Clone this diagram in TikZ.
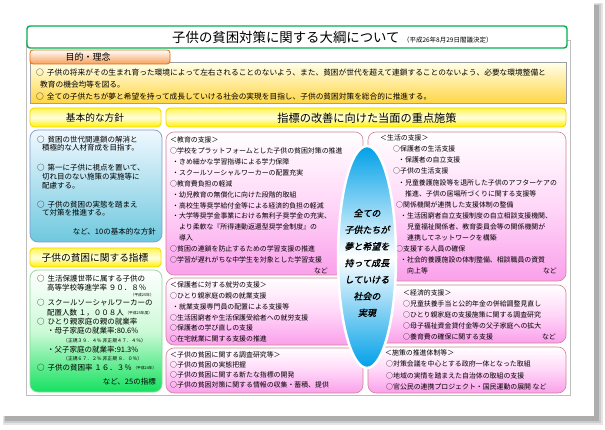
\documentclass[tikz,border=0pt]{standalone}
\usepackage{fontspec}
\setmainfont{Noto Sans CJK JP}
\newfontfamily\goalfont[FakeSlant=0.2,FakeBold=1.5]{Noto Sans CJK JP}
\usetikzlibrary{shapes.geometric, positioning}

\definecolor{framegray}{RGB}{190,190,190}
\definecolor{titlegreen}{RGB}{0,176,80}
\definecolor{tabline}{RGB}{226,107,10}
\definecolor{tabfill}{RGB}{248,160,90}
\definecolor{aimtop}{RGB}{255,255,235}
\definecolor{aimbot}{RGB}{255,214,70}
\definecolor{headline}{RGB}{245,215,0}
\definecolor{headtop}{RGB}{255,245,80}
\definecolor{headmid}{RGB}{255,255,225}
\definecolor{headbot}{RGB}{255,240,0}
\definecolor{blueline}{RGB}{125,155,200}
\definecolor{bluetop}{RGB}{240,248,255}
\definecolor{bluebot}{RGB}{110,200,222}
\definecolor{greenline}{RGB}{140,215,150}
\definecolor{greenmid}{RGB}{205,250,215}
\definecolor{greenbot}{RGB}{20,225,95}
\definecolor{pinkline}{RGB}{210,130,150}
\definecolor{pinkmid}{RGB}{255,215,248}
\definecolor{pinkbot}{RGB}{250,160,235}
\definecolor{goalblue}{RGB}{0,160,232}

\begin{document}
\begin{tikzpicture}[x=1pt, y=-1pt,
    panel/.style={draw=framegray, line width=0.6pt, fill=white},
    titlebox/.style={draw=titlegreen, line width=1.4pt, rounded corners=3pt, fill=white},
    tabbox/.style={draw=tabline, line width=0.8pt, rounded corners=3pt, top color=white, bottom color=tabfill},
    aimbox/.style={draw=gray!75, line width=0.6pt, top color=aimtop, bottom color=aimbot},
    head/.style={draw=headline, line width=0.8pt, rounded corners=4pt,
                 top color=headtop, bottom color=headbot, middle color=headmid},
    policybox/.style={draw=blueline, line width=0.7pt, rounded corners=8pt, top color=bluetop, bottom color=bluebot},
    indexbox/.style={draw=greenline, line width=0.7pt, rounded corners=8pt,
                     top color=white, bottom color=greenbot, middle color=greenmid},
    measure/.style={draw=pinkline, line width=0.6pt, rounded corners=8pt,
                    top color=white, bottom color=pinkbot, middle color=pinkmid},
    headtxt/.style={inner sep=0pt, font=\fontsize{9.7}{10}\selectfont},
    ltxt/.style={anchor=west, inner sep=0pt, font=\fontsize{7.5}{8}\selectfont},
    txt/.style={anchor=west, inner sep=0pt, font=\fontsize{6.9}{8}\selectfont},
    etc/.style={anchor=east, inner sep=0pt, font=\fontsize{6.9}{8}\selectfont},
    note/.style={inner sep=0pt, font=\fontsize{3.8}{4}\selectfont}
]
\useasboundingbox (0,0) rectangle (605,430);

% page with shadow
\fill[black!10] (3,3) rectangle (603,425);
\fill[black!20] (4,4) rectangle (601,423);
\fill[black!32] (5,5) rectangle (599,421);
\fill[white] (0,0) rectangle (594,416);
\draw[panel] (26,40) rectangle (570,395);

% ============================================================
% title and aim
% ============================================================
\draw[titlebox] (27,26) rectangle (567,48);
\node[anchor=west, inner sep=0pt, font=\fontsize{13.4}{14}\selectfont] (title) at (172,37) {子供の貧困対策に関する大綱について};
\node[anchor=base west, inner sep=0pt, font=\fontsize{6.5}{7}\selectfont] (date) at ([xshift=3pt]title.base east) {（平成26年8月29日閣議決定）};

\draw[aimbox] (30,62) rectangle (566,103);
\draw[tabbox] (30,50) rectangle (170,64);
\node[inner sep=0pt, font=\fontsize{9}{10}\selectfont] (aimtab) at (88,57) {目的・理念};
\node[anchor=west, inner sep=0pt, font=\fontsize{7.7}{8}\selectfont] (aim1) at (36,73) {○\kern3pt子供の将来がその生まれ育った環境によって左右されることのないよう、また、貧困が世代を超えて連鎖することのないよう、必要な環境整備と};
\node[anchor=west, inner sep=0pt, font=\fontsize{7.7}{8}\selectfont] (aim2) at (40,85) {教育の機会均等を図る。};
\node[anchor=west, inner sep=0pt, font=\fontsize{7.7}{8}\selectfont] (aim3) at (36,97) {○\kern3pt全ての子供たちが夢と希望を持って成長していける社会の実現を目指し、子供の貧困対策を総合的に推進する。};

% ============================================================
% left column
% ============================================================
\draw[head] (30,108) rectangle (161,127);
\node[headtxt] (policyhead) at (95,118) {基本的な方針};
\draw[policybox] (30,130) rectangle (162,242);
\foreach \x/\y/\t [count=\i] in {37/140/○\kern3pt貧困の世代間連鎖の解消と, 42/148/積極的な人材育成を目指す。,
    37/168/○\kern3pt第一に子供に視点を置いて、, 42/177/切れ目のない施策の実施等に, 42/186/配慮する。,
    37/205/○\kern3pt子供の貧困の実態を踏まえ, 42/213/て対策を推進する。}
    \node[ltxt, name=pol\i] at (\x,\y) {\t};
\node[ltxt, anchor=east] (poletc) at (156,232) {など、10の基本的な方針};

\draw[head] (30,248) rectangle (161,267);
\node[headtxt] (indexhead) at (95,258) {子供の貧困に関する指標};
\draw[indexbox] (30,270) rectangle (162,392);
\node[ltxt] (ind1) at (37,279) {○\kern3pt生活保護世帯に属する子供の};
\node[ltxt] (ind2) at (47,288) {高等学校等進学率\ ９０．８％};
\node[note, anchor=east] (ind2n) at (154,295) {（平成25年）};
\node[ltxt] (ind3) at (37,303) {○\kern3ptスクールソーシャルワーカーの};
\node[ltxt] (ind4) at (47,313) {配置人数\ １，００８人};
\node[note, anchor=west] (ind4n) at ([xshift=1pt]ind4.east) {（平成25年度）};
\node[ltxt] (ind5) at (37,322) {○\kern3ptひとり親家庭の親の就業率};
\node[ltxt] (ind6) at (47,331) {・母子家庭の就業率:80.6\%};
\node[ltxt, font=\fontsize{4.8}{5}\selectfont] (ind7) at (63,341) {（正規３９．４％\ 非正規４７．４％）};
\node[ltxt] (ind8) at (47,350) {・父子家庭の就業率:91.3\%};
\node[ltxt, font=\fontsize{4.8}{5}\selectfont] (ind9) at (63,359) {（正規６７．２％\ 非正規\ ８．０％）};
\node[ltxt] (ind10) at (37,368) {○\kern3pt子供の貧困率\ １６．３％};
\node[note, anchor=west] (ind10n) at ([xshift=1pt]ind10.east) {（平成24年）};
\node[ltxt, anchor=east] (indetc) at (156,382) {など、25の指標};

% ============================================================
% measures
% ============================================================
\draw[head] (166,108) rectangle (566,127);
\node[headtxt, font=\fontsize{11.2}{12}\selectfont] (measurehead) at (367,118) {指標の改善に向けた当面の重点施策};

\draw[measure] (166,132) rectangle (363,275);
\draw[measure] (166,278) rectangle (363,345);
\draw[measure] (166,348) rectangle (363,393);
\draw[measure] (368,132) rectangle (566,281);
\draw[measure] (368,285) rectangle (566,343);
\draw[measure] (368,347) rectangle (566,393);

% education
\foreach \x/\t [count=\i] in {170/＜教育の支援＞, 170/○学校をプラットフォームとした子供の貧困対策の推進,
    172/・きめ細かな学習指導による学力保障, 172/・スクールソーシャルワーカーの配置充実,
    170/○教育費負担の軽減, 172/・幼児教育の無償化に向けた段階的取組,
    172/・高校生等奨学給付金等による経済的負担の軽減, 172/・大学等奨学金事業における無利子奨学金の充実、,
    179/より柔軟な『所得連動返還型奨学金制度』の, 179/導入,
    170/○貧困の連鎖を防止するための学習支援の推進, 170/○学習が遅れがちな中学生を対象とした学習支援}
    \node[txt, name=edu\i] at (\x,{140+(\i-1)*10.9}) {\t};
\node[etc] (eduetc) at (328,271) {など};

% work support for parents
\foreach \x/\t [count=\i] in {170/＜保護者に対する就労の支援＞, 170/○ひとり親家庭の親の就業支援,
    172/・就業支援専門員の配置による支援等, 170/○生活困窮者や生活保護受給者への就労支援,
    170/○保護者の学び直しの支援, 170/○在宅就業に関する支援の推進}
    \node[txt, name=work\i] at (\x,{285+(\i-1)*10.8}) {\t};

% research
\foreach \x/\t [count=\i] in {170/＜子供の貧困に関する調査研究等＞, 170/○子供の貧困の実態把握,
    170/○子供の貧困に関する新たな指標の開発, 170/○子供の貧困対策に関する情報の収集・蓄積、提供}
    \node[txt, name=res\i] at (\x,{355+(\i-1)*10}) {\t};

% living support
\foreach \x/\t [count=\i] in {380/＜生活の支援＞, 393/○保護者の生活支援, 398/・保護者の自立支援,
    393/○子供の生活支援, 398/・児童養護施設等を退所した子供のアフターケアの,
    405/推進、子供の居場所づくりに関する支援等, 396/○関係機関が連携した支援体制の整備,
    400/・生活困窮者自立支援制度の自立相談支援機関、, 407/児童福祉関係者、教育委員会等の関係機関が,
    407/連携してネットワークを構築, 396/○支援する人員の確保,
    400/・社会的養護施設の体制整備、相談職員の資質, 407/向上等}
    \node[txt, name=life\i] at (\x,{138+(\i-1)*11.1}) {\t};
\node[etc] (lifeetc) at (557,271) {など};

% economic support
\foreach \x/\t [count=\i] in {403/＜経済的支援＞, 403/○児童扶養手当と公的年金の併給調整見直し,
    403/○ひとり親家庭の支援施策に関する調査研究, 403/○母子福祉資金貸付金等の父子家庭への拡大,
    403/○養育費の確保に関する支援}
    \node[txt, name=econ\i] at (\x,{293+(\i-1)*11}) {\t};
\node[etc] (econetc) at (556,337) {など};

% system
\foreach \x/\t [count=\i] in {385/＜施策の推進体制等＞, 386/○対策会議を中心とする政府一体となった取組,
    386/○地域の実情を踏まえた自治体の取組の支援, 386/○官公民の連携プロジェクト・国民運動の展開\ など}
    \node[txt, name=sys\i] at (\x,{353+(\i-1)*11.3}) {\t};

% ============================================================
% goal in the middle
% ============================================================
\node[ellipse, draw=white, line width=2.5pt, minimum width=58pt, minimum height=222pt, inner sep=0pt,
      top color=goalblue, bottom color=goalblue, middle color=white] (goal) at (367,257) {};
\node[align=center, inner sep=0pt, font=\goalfont\fontsize{9}{16.6}\selectfont] (goaltext) at (367,263)
    {全ての\\子供たちが\\夢と希望を\\持って成長\\していける\\社会の\\実現};

\end{tikzpicture}
\end{document}
